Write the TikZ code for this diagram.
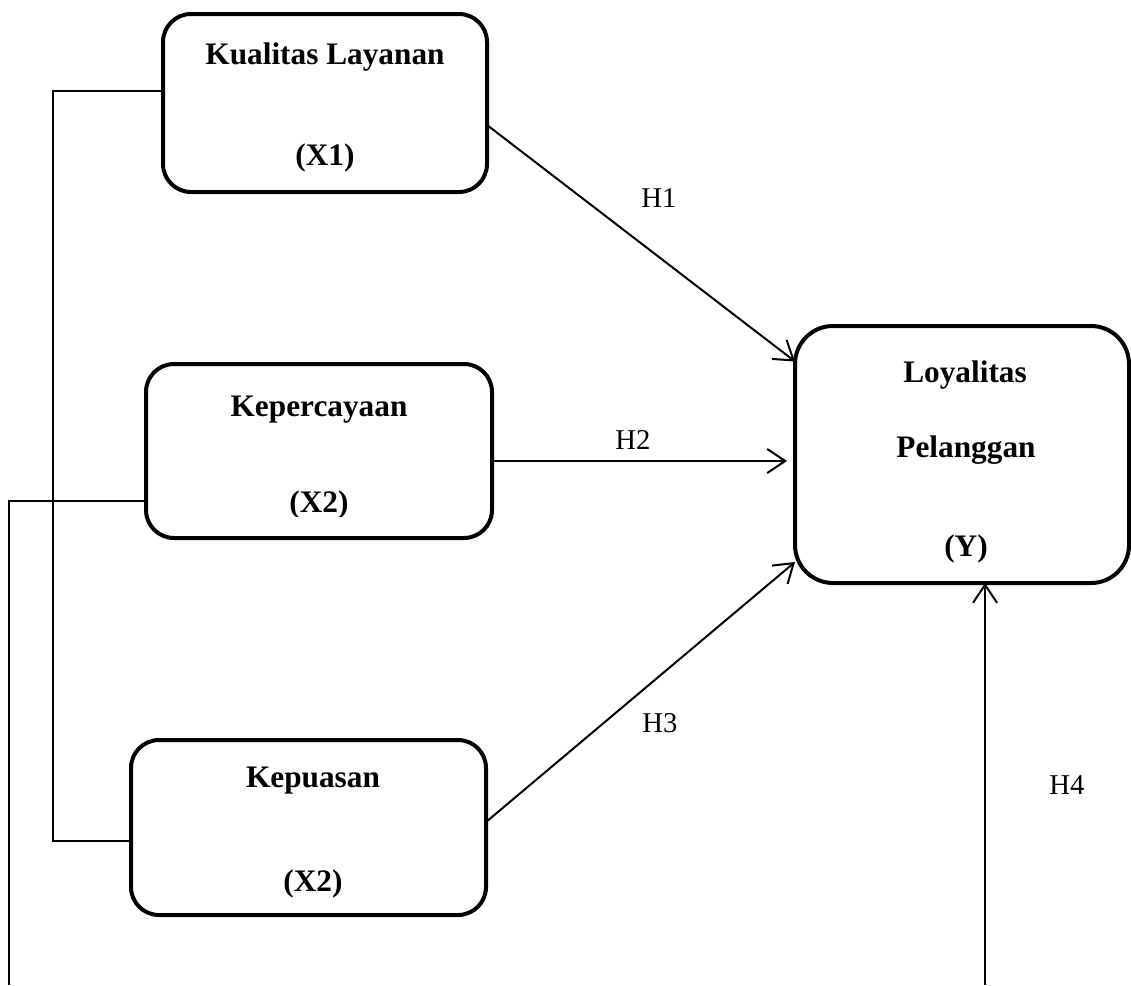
\documentclass[tikz,border=0pt]{standalone}
\usepackage{fontspec}
\setmainfont{Liberation Serif}
\usetikzlibrary{arrows.meta}
\begin{document}
\begin{tikzpicture}[x=1pt,y=-1pt,
  box/.style={draw, line width=4pt, rounded corners=28pt, outer sep=0pt, inner sep=0pt},
  bigbox/.style={box, rounded corners=38pt},
  title/.style={font=\fontsize{31.3}{36}\selectfont\bfseries, inner sep=0pt, anchor=center},
  hlab/.style={font=\fontsize{28.7}{33}\selectfont, inner sep=0pt},
  conn/.style={line width=2pt},
  arr/.style={conn, -{Straight Barb[length=18pt,width=24pt,line width=2pt]}}]
\useasboundingbox (0,0) rectangle (1131,985);
% boxes
\node[box, minimum width=324pt, minimum height=178pt] (b1) at (325,103) {};
\node[box, minimum width=346pt, minimum height=174pt] (b2) at (319,451) {};
\node[box, minimum width=355pt, minimum height=175pt] (b3) at (308.5,827.5) {};
\node[bigbox, minimum width=334pt, minimum height=257pt] (bY) at (962,454.5) {};
% box texts
\node[title] (t1a) at (325,57) {Kualitas Layanan};
\node[title] (t1b) at (325,158) {(X1)};
\node[title] (t2a) at (319,410) {Kepercayaan};
\begin{scope}
  \clip (200,470) rectangle (440,516);
  \node[title] (t2b) at (319,505) {(X2)};
\end{scope}
\node[title] (t3a) at (313,781) {Kepuasan};
\node[title] (t3b) at (313,884) {(X2)};
\node[title] (tYa) at (965,375) {Loyalitas};
\node[title] (tYb) at (966,450) {Pelanggan};
\node[title] (tYc) at (966,549) {(Y)};
% hypothesis labels
\node[hlab] (h1) at (659,198) {H1};
\node[hlab] (h2) at (633,440) {H2};
\node[hlab] (h3) at (660,723) {H3};
\node[hlab] (h4) at (1067,785) {H4};
% left connectors
\coordinate (l1) at (53,91);
\coordinate (l3) at (53,841);
\coordinate (l2) at (9,501);
\coordinate (bl) at (9,985);
\coordinate (br) at (985,985);
\draw[conn] (b1.west |- l1) -- (l1) -- (l3) -- (b3.west |- l3);
\draw[conn] (b2.west |- l2) -- (l2) -- (bl);
% arrows
\draw[arr] ([yshift=-22pt]b1.east) -- ([yshift=93pt]bY.west);
\draw[arr] ([yshift=-10pt]b2.east) -- ([xshift=-8pt,yshift=-10pt]b2.east -| bY.west);
\draw[arr] ([yshift=5.5pt]b3.east) -- ([yshift=-107.5pt]bY.west);
\draw[arr] (br) -- (br |- bY.south);
\end{tikzpicture}
\end{document}
